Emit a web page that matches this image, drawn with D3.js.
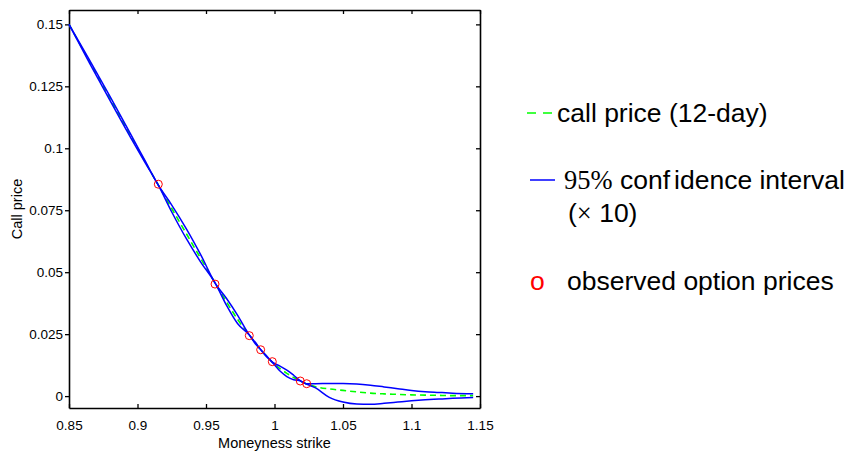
<!DOCTYPE html>
<html>
<head>
<meta charset="utf-8">
<script src="https://cdn.jsdelivr.net/npm/d3@7"></script>
<style>
  body { margin: 0; background: #fff; }
  svg { display: block; font-family: "Liberation Sans", Arial, Helvetica, sans-serif; }
</style>
</head>
<body>
<svg id="chart" width="846" height="452"></svg>
<script>
// strike grid shared by the fitted curve and the confidence band
const strikes = [0.85, 0.865, 0.88, 0.895, 0.905, 0.915, 0.925, 0.936, 0.946, 0.957,
  0.965, 0.973, 0.982, 0.986, 0.99, 0.994, 0.998, 1.004, 1.009, 1.014, 1.019, 1.023,
  1.03, 1.04, 1.05, 1.06, 1.07, 1.08, 1.09, 1.1, 1.11, 1.12, 1.13, 1.145];

const callPrice = [0.15, 0.135, 0.12, 0.105, 0.0951, 0.0853, 0.0757, 0.0652, 0.0557, 0.0453,
  0.038, 0.031, 0.0244, 0.0214, 0.0187, 0.0162, 0.0139, 0.0111, 0.0092, 0.0075, 0.0061, 0.005,
  0.0038, 0.0029, 0.0023, 0.0017, 0.0012, 0.0009, 0.0007, 0.0005, 0.0004, 0.0003, 0.0002, 0.0002];

const ciUpper = [0.15, 0.1356, 0.1208, 0.1057, 0.0955, 0.0853, 0.0771, 0.0672, 0.0572, 0.0453,
  0.0394, 0.0327, 0.0244, 0.0217, 0.0187, 0.0164, 0.0139, 0.0121, 0.0105, 0.0084, 0.0061, 0.005,
  0.005, 0.0051, 0.0051, 0.0049, 0.0044, 0.0037, 0.003, 0.0023, 0.0018, 0.0015, 0.0012, 0.0009];

const ciLower = [0.15, 0.1344, 0.1192, 0.1043, 0.0947, 0.0853, 0.0743, 0.0632, 0.0542, 0.0453,
  0.0366, 0.0293, 0.0244, 0.0211, 0.0187, 0.016, 0.0139, 0.0101, 0.0079, 0.0066, 0.0061, 0.005,
  0.0033, -0.0005, -0.0024, -0.0032, -0.0033, -0.0029, -0.0024, -0.0019, -0.0015, -0.0012, -0.0009, -0.0006];

// observed option prices
const obsStrike = [0.9152, 0.9566, 0.9816, 0.9899, 0.9984, 1.0188, 1.0235];
const obsPrice = [0.0855, 0.0452, 0.0244, 0.0187, 0.0139, 0.0061, 0.005];

const xTicks = [0.85, 0.9, 0.95, 1, 1.05, 1.1, 1.15];
const xTickLabels = ["0.85", "0.9", "0.95", "1", "1.05", "1.1", "1.15"];
const yTicks = [0, 0.025, 0.05, 0.075, 0.1, 0.125, 0.15];
const yTickLabels = ["0", "0.025", "0.05", "0.075", "0.1", "0.125", "0.15"];

const svg = d3.select("#chart");
const margin = { top: 10, right: 366, bottom: 44, left: 69 };
const width = 846;
const height = 452;

const x = d3.scaleLinear()
  .domain([0.85, 1.15])
  .range([margin.left, width - margin.right]);

const y = d3.scaleLinear()
  .domain([-0.0048, 0.1558])
  .range([height - margin.bottom, margin.top]);

const styleAxis = (g) => {
  g.select(".domain").attr("stroke", "#000").attr("stroke-width", 1.6);
  g.selectAll(".tick line").attr("stroke", "#000").attr("stroke-width", 1.3);
  g.selectAll(".tick text").attr("fill", "#000").style("font-size", "13.5px");
};

svg.append("g")
  .attr("transform", `translate(0,${height - margin.bottom})`)
  .call(d3.axisBottom(x).tickValues(xTicks).tickSize(-4).tickSizeOuter(0)
    .tickPadding(12).tickFormat((d, i) => xTickLabels[i]))
  .call(styleAxis)
  .call((g) => g.selectAll(".tick text").attr("y", 22).attr("dy", null));

svg.append("g")
  .attr("transform", `translate(0,${margin.top})`)
  .call(d3.axisTop(x).tickValues(xTicks).tickSize(-4).tickSizeOuter(0).tickFormat(""))
  .call(styleAxis);

svg.append("g")
  .attr("transform", `translate(${margin.left},0)`)
  .call(d3.axisLeft(y).tickValues(yTicks).tickSize(4).tickSizeOuter(0)
    .tickPadding(2).tickFormat((d, i) => yTickLabels[i]))
  .call(styleAxis);

svg.append("g")
  .attr("transform", `translate(${width - margin.right},0)`)
  .call(d3.axisRight(y).tickValues(yTicks).tickSize(-4).tickSizeOuter(0).tickFormat(""))
  .call(styleAxis);

// axis titles
svg.append("text")
  .attr("x", (margin.left + width - margin.right) / 2)
  .attr("y", 448)
  .attr("text-anchor", "middle")
  .style("font-size", "14.5px")
  .text("Moneyness strike");

svg.append("text")
  .attr("transform", `translate(22,${(margin.top + height - margin.bottom) / 2}) rotate(-90)`)
  .attr("text-anchor", "middle")
  .style("font-size", "14.5px")
  .text("Call price");

const line = (vals) => d3.line()
  .x((d, i) => x(strikes[i]))
  .y((d) => y(d))
  .curve(d3.curveMonotoneX)(vals);

const plot = svg.append("g");

plot.append("path")
  .attr("d", line(callPrice))
  .attr("fill", "none")
  .attr("stroke", "#00ff00")
  .attr("stroke-width", 1.6)
  .attr("stroke-dasharray", "6,4");

[ciUpper, ciLower].forEach((vals) => {
  plot.append("path")
    .attr("d", line(vals))
    .attr("fill", "none")
    .attr("stroke", "#0000ff")
    .attr("stroke-width", 1.5);
});

plot.selectAll("circle")
  .data(obsStrike)
  .join("circle")
  .attr("cx", (d) => x(d))
  .attr("cy", (d, i) => y(obsPrice[i]))
  .attr("r", 4)
  .attr("fill", "none")
  .attr("stroke", "#ff0000")
  .attr("stroke-width", 1);

// legend
const legend = svg.append("g").style("font-size", "26.5px");

legend.append("line")
  .attr("x1", 527).attr("x2", 553).attr("y1", 113).attr("y2", 113)
  .attr("stroke", "#00ff00").attr("stroke-width", 1.6)
  .attr("stroke-dasharray", "9,7");
legend.append("text").attr("x", 557).attr("y", 122).text("call price (12-day)");

legend.append("line")
  .attr("x1", 530).attr("x2", 555).attr("y1", 180).attr("y2", 180)
  .attr("stroke", "#0000ff").attr("stroke-width", 1.5);
const ciText = legend.append("text").attr("x", 564).attr("y", 189);
ciText.append("tspan")
  .style("font-family", "'Liberation Serif', 'Times New Roman', serif")
  .text("95%");
ciText.append("tspan").text(" conf");
ciText.append("tspan").attr("dx", 4).text("idence interval");

const scaleText = legend.append("text").attr("x", 568).attr("y", 222);
scaleText.append("tspan").text("(");
scaleText.append("tspan")
  .style("font-family", "'Liberation Serif', 'Times New Roman', serif")
  .text("\u00d7");
scaleText.append("tspan").text(" 10)");

legend.append("text").attr("x", 530).attr("y", 290).attr("fill", "#ff0000").text("o");
legend.append("text").attr("x", 567).attr("y", 290).text("observed option prices");
</script>
</body>
</html>
